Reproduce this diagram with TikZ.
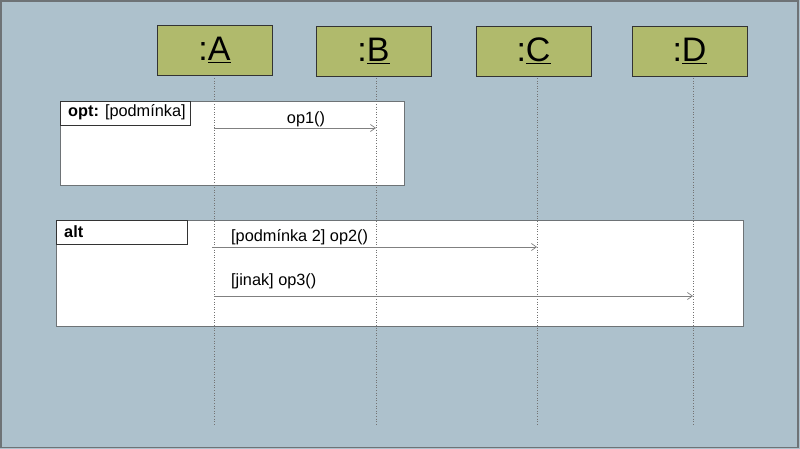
\documentclass[tikz,border=0pt]{standalone}
\usepackage{fontspec}
\setmainfont{Liberation Sans}
\usetikzlibrary{arrows.meta}
\definecolor{bgc}{RGB}{173,193,204}
\definecolor{objc}{RGB}{176,186,108}
\definecolor{framec}{RGB}{110,115,118}
\tikzset{
  obj/.style={draw=black!80, fill=objc, minimum width=115pt, minimum height=50pt, inner sep=0pt, font=\fontsize{34}{36}\selectfont},
  life/.style={draw=black!55, dotted, line width=0.6pt},
  frag/.style={draw=framec, fill=white, line width=0.8pt},
  fraglabel/.style={draw=black!80, fill=white, line width=0.6pt},
  msg/.style={draw=black!50, line width=0.7pt, -{Straight Barb[length=5pt,width=7pt]}},
  txt/.style={font=\fontsize{16.3}{18}\selectfont, inner sep=0pt}
}
\begin{document}
\begin{tikzpicture}[x=1pt,y=-1pt]
\useasboundingbox (0,0) rectangle (800,449);
\fill[bgc] (0,0) rectangle (800,449);
\draw[framec, line width=1.5pt] (1,1) rectangle (798,447.5);
% objects
\node[obj] (A) at (214.5,50) {:\underline{A}};
\node[obj] (B) at (373.5,51) {:\underline{B}};
\node[obj] (C) at (533.5,51) {:\underline{C}};
\node[obj] (D) at (689.5,51) {:\underline{D}};
% fragments
\draw[frag] (60,101) rectangle (404,185);
\node[fraglabel, anchor=north west, minimum width=130pt, minimum height=24pt, inner sep=0pt] (optl) at (60,101) {};
\node[txt, anchor=west] (optt) at (68,112) {\textbf{opt:} [podmínka]};
\draw[frag] (56,220) rectangle (743,326);
\node[fraglabel, anchor=north west, minimum width=131pt, minimum height=24pt, inner sep=0pt] (altl) at (56,220) {};
\node[txt, anchor=west] (altt) at (64,232) {\textbf{alt}};
% lifelines
\coordinate (Ae) at (214,424);
\coordinate (Be) at (376,424);
\coordinate (Ce) at (537,424);
\coordinate (De) at (693,424);
\coordinate (As) at (214,78);
\coordinate (Bs) at (376,78);
\coordinate (Cs) at (537,78);
\coordinate (Ds) at (693,78);
\draw[life] (As) -- (Ae);
\draw[life] (Bs) -- (Be);
\draw[life] (Cs) -- (Ce);
\draw[life] (Ds) -- (De);
% messages
\coordinate (m1s) at (214,128);
\coordinate (m1e) at (376,128);
\draw[msg] (m1s) -- (m1e);
\node[txt] (m1t) at (306,119) {op1()};
\coordinate (m2s) at (212,247);
\coordinate (m2e) at (537,247);
\draw[msg] (m2s) -- (m2e);
\node[txt, anchor=west] (m2t) at (231,237) {[podmínka 2] op2()};
\coordinate (m3s) at (214,296);
\coordinate (m3e) at (693,296);
\draw[msg] (m3s) -- (m3e);
\node[txt, anchor=west] (m3t) at (231,281) {[jinak] op3()};
\end{tikzpicture}
\end{document}
